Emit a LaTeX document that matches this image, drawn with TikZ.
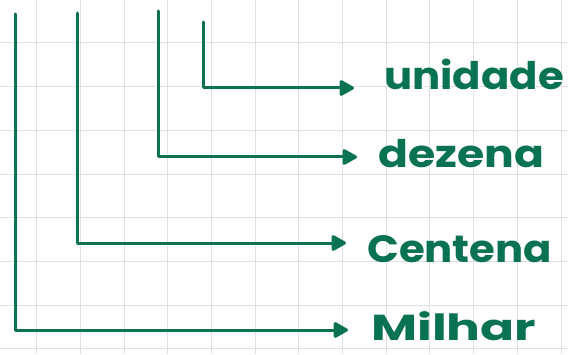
\documentclass[tikz,border=0pt]{standalone}
\usepackage{fontspec}
\setmainfont{Poppins}
\usetikzlibrary{arrows.meta}
\definecolor{ink}{RGB}{8,114,82}
\definecolor{gridc}{RGB}{224,224,224}
\tikzset{
  gridline/.style={draw=gridc, line width=1pt},
  arr/.style={draw=ink, line width=3pt, line cap=round, line join=round,
    -{Triangle[length=16pt,width=17pt,round]}},
  word/.style={text=ink, inner sep=0pt, anchor=base west, font=\fontsize{38}{44}\selectfont\bfseries}
}
\begin{document}
\begin{tikzpicture}[x=1pt,y=1pt]
\useasboundingbox (0,0) rectangle (568,354);
\fill[white] (0,0) rectangle (568,354);
% grid
\foreach \i in {0,...,12} {
  \draw[gridline] ({36.6+43.7*\i},0) -- ({36.6+43.7*\i},354);
}
\foreach \j in {0,...,7} {
  \draw[gridline] (0,{311-43.7*\j}) -- (568,{311-43.7*\j});
}
% start points of the lines
\coordinate (t1) at (15,340);
\coordinate (t2) at (77,341);
\coordinate (t3) at (158,343);
\coordinate (t4) at (203,332);
% arrow tips
\coordinate (a1) at (348,24);
\coordinate (a2) at (346,111);
\coordinate (a3) at (357,197);
\coordinate (a4) at (354,266);
% words
\node[word] (milhar) at (371,14) {\scalebox{1.32}[0.95]{Milhar}};
\node[word] (centena) at (367,92) {\scalebox{1.1}[1.0]{Centena}};
\node[word] (dezena) at (378,186) {\scalebox{1.16}[1.0]{dezena}};
\node[word] (unidade) at (384,264) {\scalebox{1.1}[1.0]{unidade}};
% connectors
\draw[arr] (t1) |- (a1);
\draw[arr] (t2) |- (a2);
\draw[arr] (t3) |- (a3);
\draw[arr] (t4) |- (a4);
\end{tikzpicture}
\end{document}
